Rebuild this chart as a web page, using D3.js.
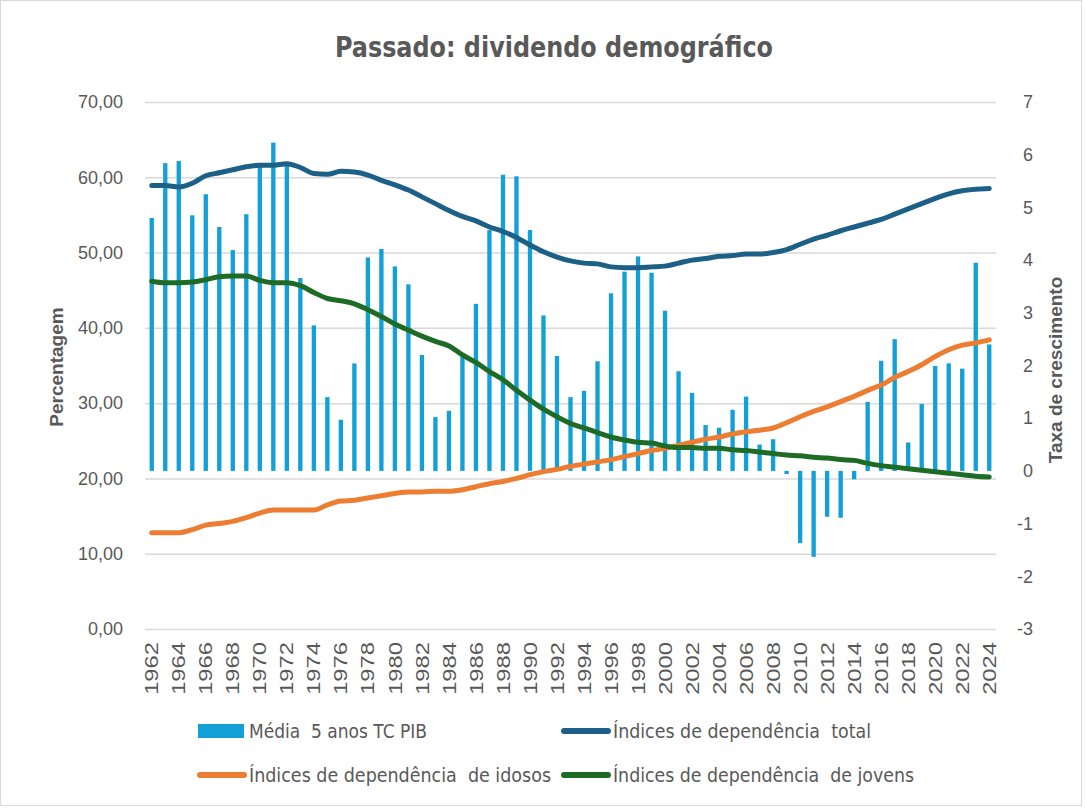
<!DOCTYPE html>
<html>
<head>
<meta charset="utf-8">
<script src="https://cdn.jsdelivr.net/npm/d3@7"></script>
<style>
body{margin:0;background:#fff;}
svg{font-family:"Liberation Sans",Arial,sans-serif;}
.tick text{fill:#595959;}
.cond{font-family:"DejaVu Sans Condensed","Liberation Sans Narrow",sans-serif;fill:#595959;white-space:pre;}
</style>
</head>
<body>
<svg width="1086" height="809"></svg>
<script>
const svg=d3.select('svg');
const width=+svg.attr('width');
const height=+svg.attr('height');
const margin={top:102,right:90,bottom:180,left:145};

/* data */
const years=d3.range(1962,2025);
const pibTC=[4.80,5.84,5.88,4.85,5.25,4.63,4.19,4.87,5.80,6.23,
  5.80,3.66,2.76,1.40,0.97,2.04,4.05,4.21,3.88,3.54,
  2.20,1.02,1.14,2.17,3.17,4.57,5.62,5.59,4.57,2.95,
  2.18,1.40,1.52,2.08,3.37,3.78,4.07,3.76,3.04,1.89,
  1.48,0.87,0.82,1.16,1.41,0.50,0.60,-0.06,-1.37,-1.63,
  -0.87,-0.89,-0.16,1.31,2.09,2.50,0.54,1.27,1.99,2.04,
  1.94,3.95,2.40];
const depTotal=[58.9,58.9,58.7,59.2,60.2,60.6,61.0,61.4,61.6,61.6,
  61.8,61.3,60.5,60.4,60.8,60.7,60.3,59.6,59.0,58.3,
  57.4,56.5,55.6,54.8,54.2,53.4,52.8,52.0,51.0,50.1,
  49.4,48.9,48.6,48.5,48.1,48.0,48.0,48.1,48.2,48.6,
  49.0,49.2,49.5,49.6,49.8,49.8,50.0,50.4,51.1,51.8,
  52.3,52.9,53.4,53.9,54.4,55.1,55.8,56.5,57.2,57.8,
  58.2,58.4,58.5];
const depIdosos=[12.8,12.8,12.8,13.2,13.8,14.0,14.3,14.8,15.4,15.8,
  15.8,15.8,15.8,16.5,17.0,17.1,17.4,17.7,18.0,18.2,
  18.2,18.3,18.3,18.5,18.9,19.3,19.6,20.0,20.5,20.9,
  21.2,21.6,21.9,22.2,22.5,22.9,23.3,23.7,24.0,24.4,
  24.8,25.2,25.5,25.9,26.2,26.4,26.7,27.4,28.2,28.9,
  29.5,30.2,30.9,31.7,32.4,33.4,34.2,35.1,36.2,37.1,
  37.7,38.0,38.4];
const depJovens=[46.2,46.0,46.0,46.1,46.4,46.8,46.9,46.9,46.3,46.0,
  46.0,45.6,44.7,43.9,43.6,43.2,42.4,41.5,40.5,39.7,
  38.9,38.2,37.6,36.4,35.4,34.2,33.1,31.7,30.4,29.2,
  28.2,27.3,26.7,26.1,25.5,25.1,24.8,24.7,24.3,24.1,
  24.1,24.0,24.0,23.8,23.7,23.5,23.3,23.1,23.0,22.8,
  22.7,22.5,22.4,22.0,21.7,21.5,21.3,21.1,20.9,20.7,
  20.5,20.3,20.2];
const leftTicks=[0,10,20,30,40,50,60,70];
const rightTicks=[-3,-2,-1,0,1,2,3,4,5,6,7];
const yearTicks=years.filter(y=>y%2===0);

const barColor='#12a0d7';
const lines=[
  {name:'Índices de dependência  total',values:depTotal,color:'#1c5f87'},
  {name:'Índices de dependência  de idosos',values:depIdosos,color:'#ed7d31'},
  {name:'Índices de dependência  de jovens',values:depJovens,color:'#1d6b24'}
];

const innerRight=width-margin.right;
const innerBottom=height-margin.bottom;

/* frame */
svg.append('rect')
   .attr('x',0.5).attr('y',0.5)
   .attr('width',width-5).attr('height',height-4)
   .attr('fill','none').attr('stroke','#d9d9d9');

/* scales */
const xScale=d3.scaleBand()
   .domain(years)
   .range([margin.left,innerRight])
   .paddingInner(0.68)
   .paddingOuter(0.34);
const yLeft=d3.scaleLinear().domain([0,70]).range([innerBottom,margin.top]);
const yRight=d3.scaleLinear().domain([-3,7]).range([innerBottom,margin.top]);
const xc=d=>xScale(d)+xScale.bandwidth()/2;

/* grid */
svg.append('g')
   .attr('transform',`translate(${margin.left},0)`)
   .call(d3.axisLeft(yLeft).tickValues(leftTicks).tickSize(-(innerRight-margin.left)).tickFormat(''))
   .call(g=>g.select('.domain').remove())
   .call(g=>g.selectAll('line').attr('stroke','#d9d9d9').attr('stroke-width',1.5));

/* left axis */
svg.append('g')
   .attr('transform',`translate(123,0)`)
   .call(d3.axisLeft(yLeft).tickValues(leftTicks).tickSize(0).tickPadding(0)
      .tickFormat(d=>d3.format('.2f')(d).replace('.',',')))
   .call(g=>g.select('.domain').remove())
   .call(g=>g.selectAll('text').attr('font-size',18));

/* right axis */
svg.append('g')
   .attr('transform',`translate(1033,0)`)
   .call(d3.axisRight(yRight).tickValues(rightTicks).tickSize(0).tickPadding(0)
      .tickFormat(d=>String(d)))
   .call(g=>g.select('.domain').remove())
   .call(g=>g.selectAll('text').attr('font-size',18).attr('text-anchor','end'));

/* x axis, years rotated */
svg.append('g')
   .attr('transform',`translate(0,${innerBottom})`)
   .call(d3.axisBottom(xScale).tickValues(yearTicks).tickSize(0))
   .call(g=>g.select('.domain').remove())
   .call(g=>g.selectAll('text')
      .attr('font-size',18)
      .attr('text-anchor','end')
      .attr('dy','0.35em')
      .attr('y',0)
      .attr('transform','translate(0,13) rotate(-90) scale(1.32,1.05)'));

/* bars */
svg.append('g').selectAll('rect')
   .data(years)
   .join('rect')
   .attr('x',d=>xScale(d))
   .attr('width',xScale.bandwidth())
   .attr('y',(d,i)=>yRight(Math.max(0,pibTC[i])))
   .attr('height',(d,i)=>Math.abs(yRight(pibTC[i])-yRight(0)))
   .attr('fill',barColor);

/* lines */
const lineGen=values=>d3.line()
   .x(d=>xc(d))
   .y((d,i)=>yLeft(values[i]))
   .curve(d3.curveMonotoneX)(years);
lines.forEach(l=>{
  svg.append('path')
     .attr('d',lineGen(l.values))
     .attr('fill','none')
     .attr('stroke',l.color)
     .attr('stroke-width',5)
     .attr('stroke-linecap','round')
     .attr('stroke-linejoin','round');
});

/* title */
svg.append('text')
   .attr('class','cond')
   .attr('x',554).attr('y',57)
   .attr('text-anchor','middle')
   .attr('font-size',28)
   .attr('font-weight','bold')
   .attr('textLength',438)
   .attr('lengthAdjust','spacingAndGlyphs')
   .text('Passado: dividendo demográfico');

/* axis titles */
svg.append('text')
   .attr('transform','translate(63,367) rotate(-90)')
   .attr('text-anchor','middle')
   .attr('font-size',19)
   .attr('font-weight','bold')
   .attr('fill','#595959')
   .text('Percentagem');
svg.append('text')
   .attr('transform','translate(1062,370) rotate(-90)')
   .attr('text-anchor','middle')
   .attr('font-size',19)
   .attr('font-weight','bold')
   .attr('fill','#595959')
   .text('Taxa de crescimento');

/* legend */
const legend=[
  {name:'Média  5 anos TC PIB',type:'bar',color:barColor,x:198,y:731,len:178},
  {name:lines[0].name,type:'line',color:lines[0].color,x:562,y:731,len:258},
  {name:lines[1].name,type:'line',color:lines[1].color,x:198,y:775,len:302},
  {name:lines[2].name,type:'line',color:lines[2].color,x:562,y:775,len:301}
];
const lg=svg.append('g').selectAll('g').data(legend).join('g')
   .attr('transform',d=>`translate(${d.x},${d.y})`);
lg.filter(d=>d.type==='bar').append('rect')
   .attr('x',0).attr('y',-7).attr('width',46).attr('height',14)
   .attr('fill',d=>d.color);
lg.filter(d=>d.type==='line').append('line')
   .attr('x1',2).attr('x2',46).attr('y1',0).attr('y2',0)
   .attr('stroke',d=>d.color).attr('stroke-width',6)
   .attr('stroke-linecap','round');
lg.append('text')
   .attr('class','cond')
   .attr('x',51).attr('dy','0.35em')
   .attr('font-size',19)
   .attr('textLength',d=>d.len)
   .attr('lengthAdjust','spacingAndGlyphs')
   .text(d=>d.name);
</script>
</body>
</html>
